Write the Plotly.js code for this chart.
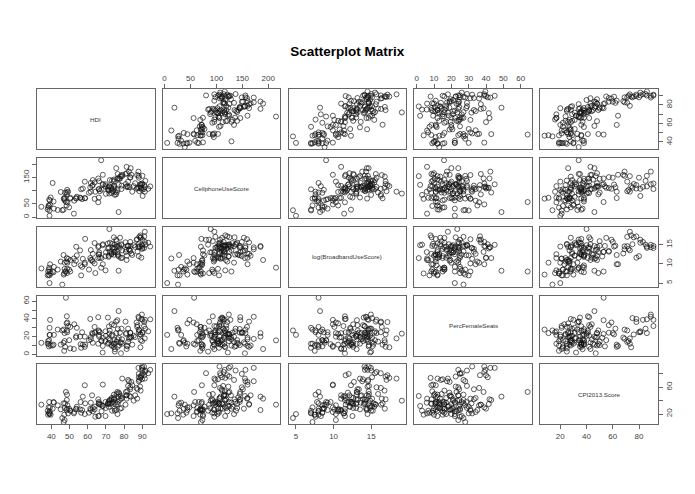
<!DOCTYPE html>
<html><head><meta charset="utf-8">
<script src="https://cdn.plot.ly/plotly-3.0.1.min.js"></script>
<style>html,body{margin:0;padding:0;background:#fff}</style>
</head><body><div id="chart" style="width:695px;height:494px"></div>
<script>
const hdi = [94.4,93.3,91.7,91.5,91.4,91.1,91.0,90.2,90.1,90.0,
 89.9,89.8,89.5,89.2,89.1,89.0,88.8,88.4,88.1,88.1,
 88.1,87.9,87.4,87.2,86.9,86.1,85.3,84.0,84.5,83.4,
 83.4,83.0,82.2,82.7,82.2,81.0,80.8,81.2,81.5,81.8,
 79.0,78.9,78.6,78.5,81.4,83.6,77.8,77.7,78.3,77.3,
 77.1,76.6,76.5,77.0,76.4,76.3,75.9,75.7,75.6,74.4,
 75.0,74.9,74.7,74.5,74.5,74.4,73.7,73.4,73.2,73.0,
 71.1,71.7,71.9,71.1,72.2,72.1,70.0,71.5,69.8,69.8,
 71.6,73.1,68.3,66.3,68.2,68.4,67.6,66.0,66.1,65.8,
 67.4,66.2,66.7,62.8,63.8,63.8,61.4,61.7,64.2,62.8,
 65.8,62.4,60.7,61.7,58.6,58.4,58.4,57.3,56.9,56.4,
 56.1,55.8,53.5,53.7,52.6,52.4,50.4,49.8,48.8,50.4,
 48.5,48.7,54.0,48.6,48.4,47.3,47.6,47.3,48.0,47.1,
 46.7,49.2,41.4,45.2,43.5,46.8,41.2,40.7,39.6,39.3,
 39.2,39.0,38.8,39.0,38.5,38.2,38.0,38.6,34.5,46.0];
const cellphone = [116,107,137,114,96,121,106,80,156,127,
 103,124,108,125,111,117,123,98,156,111,
 149,172,110,159,107,128,117,160,96,149,
 151,114,113,172,134,125,163,115,166,116,
 155,160,119,106,190,185,153,145,155,145,
 123,145,163,19,102,146,93,185,86,115,
 96,84,108,142,119,135,98,138,106,112,
 111,100,89,104,140,116,88,102,124,117,
 116,91,160,106,122,125,104,105,74,56,
 215,136,98,121,131,69,112,129,96,140,
 146,118,92,96,71,72,134,108,68,105,
 72,74,72,70,62,13,70,37,56,73,
 93,103,77,86,44,63,93,73,57,69,
 28,96,32,95,27,70,59,129,74,48,
 63,25,66,5,44,36,29,42,39,26];
const logBroadband = [14.5,15.5,15.0,15.7,18.35,17.15,14.1,16.26,14.15,14.65,
 13.9,14.95,11.6,16.9,16.76,17.4,14.5,17.03,14.55,15.1,
 12.0,14.3,13.16,16.4,16.27,14.4,14.85,12.7,12.3,15.7,
 13.35,13.6,14.7,13.8,14.6,13.1,15.6,13.7,12.1,14.65,
 13.5,11.6,14.85,15.1,11.0,14.65,16.8,14.15,11.5,14.7,
 11.9,12.25,12.6,8.2,14.5,13.1,15.9,14.4,16.3,13.06,
 13.06,14.98,14.3,12.35,13.9,16.9,14.2,15.2,12.6,12.5,
 14.0,14.15,19.06,15.3,15.5,13.2,13.0,11.8,12.0,8.3,
 12.1,13.0,9.9,13.0,14.85,15.1,11.5,14.65,12.5,11.5,
 9.0,12.4,11.6,10.6,15.4,10.1,11.5,13.6,7.6,12.6,
 14.35,11.0,8.5,11.0,16.5,9.9,10.3,11.3,9.2,7.0,
 9.6,13.5,10.8,14.45,9.9,11.4,8.0,8.5,10.3,11.0,
 11.5,8.7,12.2,7.6,10.6,8.7,8.0,10.3,8.0,7.5,
 12.3,11.3,9.2,10.6,8.5,7.2,7.8,8.0,7.5,9.9,
 8.0,7.0,9.0,5.0,7.2,8.0,7.0,8.5,8.8,4.6];
const femaleSeats = [39.6,26,29,39,18,36.5,32,25,24,39,
 15,45,40,22.5,16,8,22.5,27,28,41,
 25,42.5,33,31,36,19.5,21,19,11,24,
 24.5,19,29,17.5,14,23,37,24,10,9,
 12,17,29,13.5,6,20,13.6,24.6,1.2,10.4,
 18.8,28.6,8.5,48.9,17,38.6,14.4,24,37,12,
 5.8,3.1,16,12,33,8.6,22,9.4,34,10.7,
 41.6,31.6,23.4,12,16,27,21,13,15,26,
 18,21,9.5,20,2,18.6,15,27,22,12,
 15.8,26,25,23,24.4,31,40,17,25,13,
 42,24,16,19.5,11,8.5,20,11,25,7.4,
 11.5,20,19,20.6,34,6,31,16,36,6.7,
 43,25,30,27,35,15,8.4,24,64,4,
 13,32,22,11,28,28,11,10,10,39,
 22,30,16,22,12,15,12,9,13,27];
const cpi2013 = [86,81,85,83,73,78,91,81,86,91,
 72,89,78,76,55,74,61,71,69,75,
 80,89,57,43,59,48,40,68,63,60,
 57,47,62,69,71,53,34,48,48,54,
 73,44,29,43,43,46,28,41,47,50,
 52,38,35,46,20,53,50,26,34,49,
 37,25,28,45,42,42,38,25,44,36,
 35,36,40,36,35,41,29,38,38,17,
 31,42,64,35,32,32,24,36,17,17,
 34,38,34,24,31,27,28,37,16,29,
 42,48,22,26,36,63,20,46,26,22,
 38,27,27,28,23,21,25,28,33,25,
 41,28,31,49,26,29,36,11,53,19,
 36,21,37,27,33,8,38,28,19,30,
 24,21,38,20,30,19,25,22,34,14];

const varNames = ['HDI','CellphoneUseScore','log(BroadbandUseScore)','PercFemaleSeats','CPI2013.Score'];
const tickVals = [[40,50,60,70,80,90],[0,50,100,150,200],[5,10,15],[0,10,20,30,40,50,60],[20,40,60,80]];
const xTickText = [['40','50','60','70','80','90'],['0','50','100','150','200'],['5','10','15'],['0','10','20','30','40','50','60'],['20','40','60','80']];
const yTickVals = [[40,50,60,70,80,90],[0,50,100,150,200],[5,10,15],[0,10,20,30,40,50,60],[20,40,60,80]];
const yTickText = [['40','','60','','80',''],['0','50','','150',''],['5','10','15'],['0','','20','','40','','60'],['20','','60','']];

const vars = [hdi, cellphone, logBroadband, femaleSeats, cpi2013];
const W = 695, H = 494;
const colLeft = [37, 162.8, 288.6, 414.4, 540.2], colW = 117.6;
const rowTop = [89.3, 158.0, 226.8, 295.5, 364.3], rowH = 60;

function rng(a){ const mn=Math.min(...a), mx=Math.max(...a), p=(mx-mn)*0.04; return [mn-p, mx+p]; }
const ranges = vars.map(rng);

const traces = [];
const layout = {
  width: W, height: H, margin:{l:0,r:0,t:0,b:0}, showlegend:false,
  paper_bgcolor:'#fff', plot_bgcolor:'#fff',
  font:{family:'Liberation Sans, Arial, sans-serif', size:8, color:'#333'},
  title:{text:'<b>Scatterplot Matrix</b>', font:{family:'Liberation Sans, Arial, sans-serif', size:13.5, color:'#000'},
         x:0.4996, xanchor:'center', xref:'paper', y:1-51/H, yanchor:'middle', yref:'paper'},
  annotations: []
};

const lineCol = '#666';
for (let i=0;i<5;i++){
  for (let j=0;j<5;j++){
    const k = i*5+j+1;
    const xs = k===1 ? 'x' : 'x'+k, ys = k===1 ? 'y' : 'y'+k;
    const xa = {
      domain:[colLeft[j]/W, (colLeft[j]+colW)/W], anchor: ys, range: ranges[j],
      showgrid:false, zeroline:false, showline:true, mirror:true, linecolor:lineCol, linewidth:1,
      ticks:'', showticklabels:false, fixedrange:true
    };
    const ya = {
      domain:[1-(rowTop[i]+rowH)/H, 1-rowTop[i]/H], anchor: xs, range: ranges[i],
      showgrid:false, zeroline:false, showline:true, mirror:true, linecolor:lineCol, linewidth:1,
      ticks:'', showticklabels:false, fixedrange:true
    };
    const topTick = (i===0 && (j===1 || j===3));
    const botTick = (i===4 && (j===0 || j===2 || j===4));
    if (topTick || botTick){
      Object.assign(xa, {side: topTick?'top':'bottom', ticks:'outside', ticklen:4, tickwidth:1, tickcolor:lineCol,
        tickmode:'array', tickvals:tickVals[j], ticktext:xTickText[j], showticklabels:true,
        tickfont:{size:8, color:'#444'}});
    }
    const leftTick = (j===0 && (i===1 || i===3));
    const rightTick = (j===4 && (i===0 || i===2 || i===4));
    if (leftTick || rightTick){
      Object.assign(ya, {side: leftTick?'left':'right', ticks:'outside', ticklen:4, tickwidth:1, tickcolor:lineCol,
        tickmode:'array', tickvals:yTickVals[i], ticktext:yTickText[i], showticklabels:true, tickangle:-90,
        tickfont:{size:8, color:'#444'}});
    }
    layout['xaxis'+(k===1?'':k)] = xa;
    layout['yaxis'+(k===1?'':k)] = ya;
    if (i===j){
      traces.push({type:'scatter', mode:'markers', x:[], y:[], xaxis:xs, yaxis:ys, hoverinfo:'skip'});
      layout.annotations.push({text:varNames[i], showarrow:false, xref:'paper', yref:'paper',
        x:(colLeft[j]+colW/2)/W, y:1-(rowTop[i]+rowH/2)/H, xanchor:'center', yanchor:'middle',
        font:{size:6.2, color:'#333'}});
    } else {
      traces.push({type:'scatter', mode:'markers', x:vars[j], y:vars[i], xaxis:xs, yaxis:ys,
        marker:{symbol:'circle-open', size:5, color:'rgba(20,20,20,0.85)', line:{width:0.8}}, hoverinfo:'skip'});
    }
  }
}
Plotly.newPlot('chart', traces, layout, {displayModeBar:false, staticPlot:true});
</script>
</body></html>
